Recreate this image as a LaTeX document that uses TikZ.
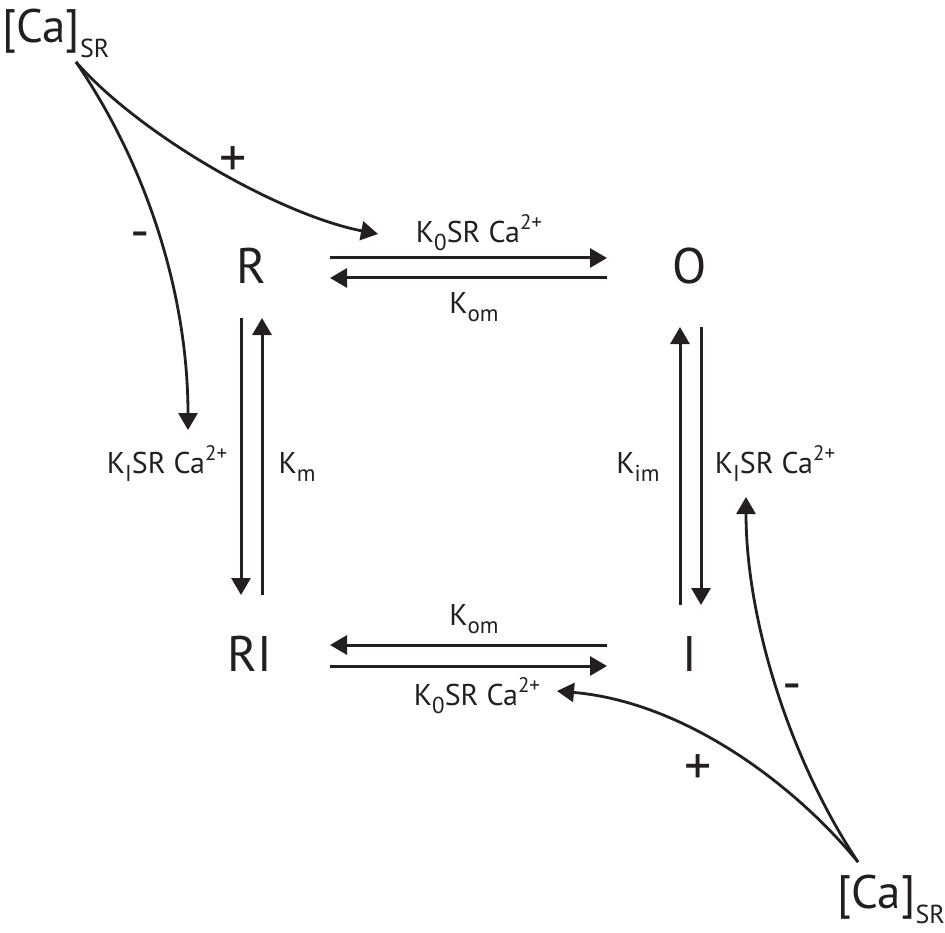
\documentclass[tikz,border=0pt]{standalone}
\usepackage{fontspec}
\setmainfont{PT Sans}
\usetikzlibrary{arrows.meta}
\definecolor{ink}{HTML}{231F20}
\newcommand\rlo[1]{\raisebox{-8pt}{\fontsize{23}{23}\selectfont #1}}
\newcommand\rhi[1]{\raisebox{13pt}{\fontsize{21}{21}\selectfont #1}}
\newcommand\calo[1]{\raisebox{-15pt}{\fontsize{26}{26}\selectfont #1}}
\begin{document}
\begin{tikzpicture}[x=1pt,y=-1pt,
  state/.style={text=ink,inner sep=0pt,font=\fontsize{50}{50}\selectfont},
  rate/.style={text=ink,inner sep=0pt,font=\fontsize{30}{30}\selectfont},
  sign/.style={text=ink,inner sep=0pt,font=\fontsize{54}{54}\selectfont},
  pool/.style={text=ink,inner sep=0pt,font=\fontsize{47}{47}\selectfont},
  flow/.style={draw=ink,line width=3pt,-{Triangle[length=17pt,width=19pt]}},
  effect/.style={draw=ink,line width=2.8pt,-{Triangle[length=17pt,width=19pt]}}]
\useasboundingbox (0,0) rectangle (945,933);
% states
\node[state] (R) at (251,266) {R};
\node[state] (O) at (690,266) {O};
\node[state] (RI) at (250,654) {RI};
\node[state] (I) at (690,654) {I};
% calcium pools
\node[pool,anchor=base west] (caT) at (2,43) {[Ca]\calo{SR}};
\node[pool,anchor=base east] (caB) at (945,908) {[Ca]\calo{SR}};
% connector ends
\coordinate (t1a) at (330,258); \coordinate (t1b) at (607,258);
\coordinate (t2a) at (607,278); \coordinate (t2b) at (330,278);
\coordinate (b1a) at (607,645); \coordinate (b1b) at (330,645);
\coordinate (b2a) at (330,666); \coordinate (b2b) at (607,666);
\coordinate (l1a) at (241,318); \coordinate (l1b) at (241,595);
\coordinate (l2a) at (262,595); \coordinate (l2b) at (262,318);
\coordinate (r1a) at (680,605); \coordinate (r1b) at (680,327);
\coordinate (r2a) at (701,327); \coordinate (r2b) at (701,605);
\coordinate (srcT) at (76,62); \coordinate (srcB) at (858,862);
\coordinate (tipP1) at (378,234); \coordinate (tipM1) at (188,430);
\coordinate (tipP2) at (557,691); \coordinate (tipM2) at (746,497);
% transitions
\draw[flow] (t1a) -- (t1b);
\draw[flow] (t2a) -- (t2b);
\draw[flow] (b1a) -- (b1b);
\draw[flow] (b2a) -- (b2b);
\draw[flow] (l1a) -- (l1b);
\draw[flow] (l2a) -- (l2b);
\draw[flow] (r1a) -- (r1b);
\draw[flow] (r2a) -- (r2b);
% calcium effects
\draw[effect] (srcT) .. controls (140,135) and (280,215) .. (tipP1);
\draw[effect] (srcT) .. controls (150,170) and (188,300) .. (tipM1);
\draw[effect] (srcB) .. controls (795,785) and (685,702) .. (tipP2);
\draw[effect] (srcB) .. controls (790,760) and (746,620) .. (tipM2);
% rate labels
\node[rate,anchor=base] (kT) at (479,243) {K\rlo{0}SR Ca\rhi{2+}};
\node[rate,anchor=base] (kTo) at (474,313) {K\rlo{om}};
\node[rate,anchor=base] (kBo) at (474,625) {K\rlo{om}};
\node[rate,anchor=base] (kB) at (477,705) {K\rlo{0}SR Ca\rhi{2+}};
\node[rate,anchor=base] (kL) at (167,473) {K\rlo{I}SR Ca\rhi{2+}};
\node[rate,anchor=base] (kM) at (297,473) {K\rlo{m}};
\node[rate,anchor=base] (kIm) at (638,473) {K\rlo{im}};
\node[rate,anchor=base] (kRr) at (775,473) {K\rlo{I}SR Ca\rhi{2+}};
% signs
\node[sign] (pT) at (233,162) {+};
\node[sign] (mT) at (140,241) {-};
\node[sign] (pB) at (698,770) {+};
\node[sign] (mB) at (792,693) {-};
\end{tikzpicture}
\end{document}
